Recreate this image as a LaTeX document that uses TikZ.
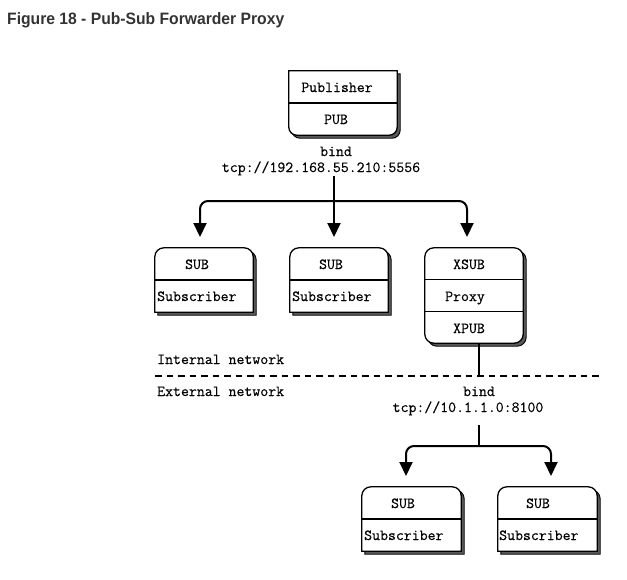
\documentclass[tikz,border=0pt]{standalone}
\usepackage{fontspec}
\usepackage{graphicx}
\usetikzlibrary{arrows.meta}
\newfontfamily\titlefont{Liberation Sans}
\newfontfamily\dmono{Latin Modern Mono}[FakeBold=0.4]
\definecolor{titlegray}{HTML}{333333}
\newcommand\boxpath[3]{([xshift=#2]#1.north west) -- ([xshift=-#2]#1.north east) arc[start angle=90,end angle=0,radius=#2] -- ([yshift=#3]#1.south east) arc[start angle=0,end angle=-90,radius=#3] -- ([xshift=#3]#1.south west) arc[start angle=270,end angle=180,radius=#3] -- ([yshift=-#2]#1.north west) arc[start angle=180,end angle=90,radius=#2] -- cycle}
\newcommand\ditbox[3]{%
  \path[shadowsty] \boxpath{#1}{#2}{#3};
  \path[boxsty] \boxpath{#1}{#2}{#3};
}
\begin{document}
\begin{tikzpicture}[x=1pt,y=-1pt,
  area/.style={draw=none,inner sep=0pt,minimum width=#1},
  shadowsty/.style={fill=black!65,draw=black,line width=0.9pt,transform canvas={shift={(3pt,-3pt)}}},
  boxsty/.style={fill=white,draw=black,line width=1.3pt},
  divider/.style={draw=black,line width=1.3pt},
  lbl/.style={inner sep=0pt,font=\fontsize{15.4}{18}\selectfont\dmono,text height=10pt,text depth=3pt},
  conn/.style={draw=black,line width=2pt},
  arr/.style={conn,rounded corners=8pt,-{Triangle[width=13pt,length=14pt]}},
  netline/.style={draw=black,line width=1.8pt,dash pattern=on 6.5pt off 5pt}
]
\useasboundingbox (0,0) rectangle (627,579);
% title
\node[anchor=base west,inner sep=0pt,text=titlegray] (title) at (7,24)
  {\resizebox{277pt}{\height}{\titlefont\bfseries\fontsize{16.5}{20}\selectfont Figure 18 - Pub-Sub Forwarder Proxy}};

% box areas
\node[area=108pt,minimum height=64pt] (pub) at (343,103) {};
\node[area=98pt,minimum height=64pt] (sub1) at (204,280) {};
\node[area=98pt,minimum height=64pt] (sub2) at (339,280) {};
\node[area=98pt,minimum height=95pt] (proxy) at (474,295.5) {};
\node[area=99pt,minimum height=64pt] (sub3) at (411.5,519) {};
\node[area=99pt,minimum height=64pt] (sub4) at (547.5,519) {};

% box shapes
\ditbox{pub}{0.01pt}{8pt}
\ditbox{sub1}{9pt}{0.01pt}
\ditbox{sub2}{9pt}{0.01pt}
\ditbox{proxy}{9pt}{9pt}
\ditbox{sub3}{9pt}{0.01pt}
\ditbox{sub4}{9pt}{0.01pt}

% dividers
\draw[divider] (pub.west) -- (pub.east);
\draw[divider] (sub1.west) -- (sub1.east);
\draw[divider] (sub2.west) -- (sub2.east);
\draw[divider] ([yshift=-32pt]proxy.north west) -- ([yshift=-32pt]proxy.north east);
\draw[divider] ([yshift=-64pt]proxy.north west) -- ([yshift=-64pt]proxy.north east);
\draw[divider] (sub3.west) -- (sub3.east);
\draw[divider] (sub4.west) -- (sub4.east);

% box texts
\node[lbl] (pubt1) at (337,88.5) {Publisher};
\node[lbl] (pubt2) at (336,120.5) {PUB};
\node[lbl] (s1t1) at (197,265.5) {SUB};
\node[lbl,anchor=west] (s1t2) at (157,297.5) {Subscriber};
\node[lbl] (s2t1) at (331,265.5) {SUB};
\node[lbl,anchor=west] (s2t2) at (292,297.5) {Subscriber};
\node[lbl] (pxt1) at (469,265.5) {XSUB};
\node[lbl] (pxt2) at (465,297.5) {Proxy};
\node[lbl] (pxt3) at (469,329.5) {XPUB};
\node[lbl] (s3t1) at (403,504.5) {SUB};
\node[lbl,anchor=west] (s3t2) at (364,536.5) {Subscriber};
\node[lbl] (s4t1) at (538,504.5) {SUB};
\node[lbl,anchor=west] (s4t2) at (499,536.5) {Subscriber};

% labels
\node[lbl] (bind1) at (336,152.5) {bind};
\node[lbl] (addr1) at (321,168.5) {tcp://192.168.55.210:5556};
\node[lbl] (bind2) at (479,392.5) {bind};
\node[lbl] (addr2) at (468,408.5) {tcp://10.1.1.0:8100};
\node[lbl,anchor=west] (intn) at (157,360.5) {Internal network};
\node[lbl,anchor=west] (extn) at (157,392.5) {External network};

% network divider
\coordinate (nl) at (155,376);
\coordinate (nr) at (600,376);
\draw[netline] (nl) -- (nr);

% upper connectors
\coordinate (src1) at (334,176);
\coordinate (fork1) at (334,201);
\coordinate (tip1) at (200,237);
\coordinate (tip2) at (334,237);
\coordinate (tip3) at (467,237);
\draw[arr] (src1) -- (tip2);
\draw[arr] (fork1) -| (tip1);
\draw[arr] (fork1) -| (tip3);

% proxy to network line
\coordinate (pxb) at (479,376);
\draw[conn] (proxy.south -| pxb) -- (pxb);

% lower connectors
\coordinate (src2) at (479,425);
\coordinate (fork2) at (479,446);
\coordinate (tip4) at (406,476);
\coordinate (tip5) at (551,476);
\draw[conn] (src2) -- (fork2);
\draw[arr] (fork2) -| (tip4);
\draw[arr] (fork2) -| (tip5);
\end{tikzpicture}
\end{document}
